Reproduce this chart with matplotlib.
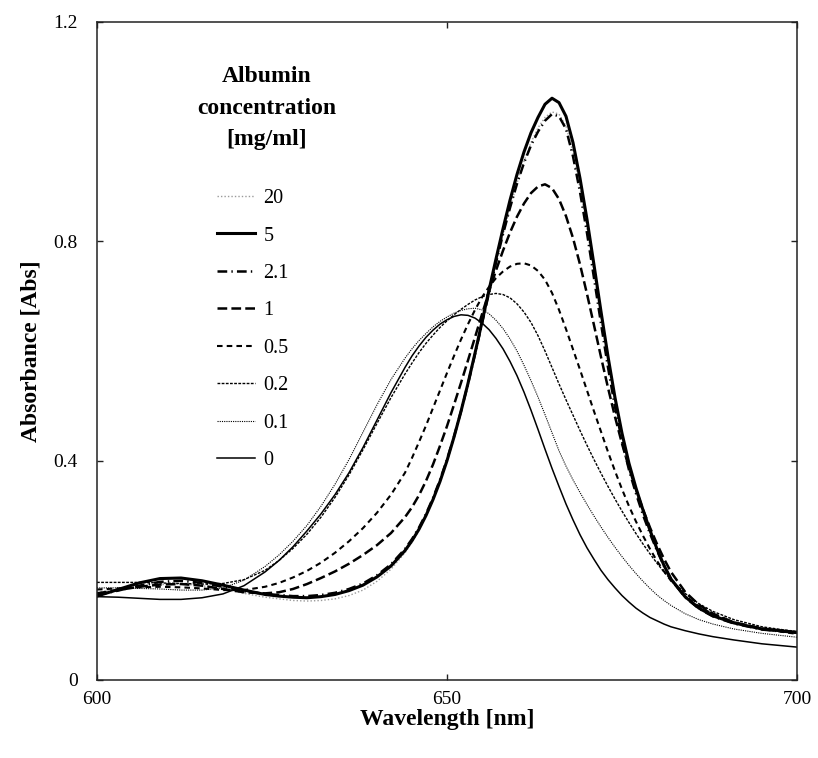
import matplotlib
matplotlib.use("Agg")
import matplotlib.pyplot as plt

plt.rcParams['font.family'] = ['Liberation Serif', 'DejaVu Serif']
plt.rcParams['lines.scale_dashes'] = False

# Absorption spectra of the dye at different albumin concentrations
wavelength = [600, 603, 606, 609, 612, 615, 618, 621,
              624, 626, 628, 630, 632, 634, 636, 638, 640, 642, 644,
              645, 646, 647, 648, 649, 650, 651, 652, 653, 654, 655, 656, 657, 658, 659,
              660, 661, 662, 663, 664, 665, 666, 667, 668, 669, 670, 671, 672, 673, 674,
              675, 676, 677, 678, 679, 680, 681, 682,
              684, 686, 688, 691, 695, 700]

abs_20 = [0.160, 0.165, 0.170, 0.174, 0.175, 0.172, 0.166, 0.158,
          0.151, 0.148, 0.145, 0.144, 0.145, 0.148, 0.154, 0.164, 0.180, 0.202, 0.232,
          0.251, 0.273, 0.299, 0.329, 0.362, 0.400, 0.442, 0.488, 0.538, 0.592, 0.648, 0.704,
          0.759, 0.812, 0.861, 0.906, 0.946, 0.980, 1.007, 1.026, 1.036, 1.032, 1.010, 0.962,
          0.898, 0.823, 0.742, 0.660, 0.580, 0.507, 0.443, 0.389, 0.344, 0.305, 0.270, 0.239,
          0.211, 0.187,
          0.154, 0.133, 0.119, 0.106, 0.095, 0.089]
abs_5 = [0.153, 0.165, 0.177, 0.185, 0.186, 0.181, 0.173, 0.164,
         0.156, 0.153, 0.151, 0.150, 0.152, 0.156, 0.163, 0.173, 0.188, 0.208, 0.236,
         0.254, 0.275, 0.300, 0.329, 0.362, 0.400, 0.443, 0.490, 0.541, 0.596, 0.653, 0.711,
         0.768, 0.823, 0.875, 0.922, 0.963, 0.998, 1.026, 1.050, 1.061, 1.053, 1.028, 0.980,
         0.915, 0.840, 0.757, 0.672, 0.590, 0.515, 0.450, 0.395, 0.350, 0.310, 0.273, 0.239,
         0.209, 0.184,
         0.152, 0.131, 0.117, 0.104, 0.093, 0.087]
abs_2_1 = [0.155, 0.163, 0.172, 0.179, 0.181, 0.177, 0.170, 0.162,
           0.157, 0.155, 0.153, 0.153, 0.155, 0.159, 0.166, 0.176, 0.191, 0.211, 0.239,
           0.257, 0.278, 0.303, 0.332, 0.365, 0.402, 0.444, 0.490, 0.540, 0.594, 0.650, 0.706,
           0.761, 0.813, 0.861, 0.905, 0.943, 0.975, 1.000, 1.020, 1.032, 1.028, 1.005, 0.955,
           0.890, 0.815, 0.733, 0.650, 0.570, 0.498, 0.436, 0.383, 0.340, 0.301, 0.267, 0.236,
           0.208, 0.184,
           0.151, 0.130, 0.116, 0.103, 0.092, 0.086]
abs_1 = [0.158, 0.164, 0.170, 0.174, 0.175, 0.172, 0.166, 0.160,
         0.158, 0.160, 0.166, 0.175, 0.186, 0.198, 0.212, 0.228, 0.246, 0.268, 0.297,
         0.315, 0.337, 0.363, 0.393, 0.427, 0.463, 0.502, 0.542, 0.583, 0.625, 0.667, 0.708,
         0.747, 0.783, 0.816, 0.845, 0.869, 0.888, 0.900, 0.904, 0.897, 0.877, 0.846, 0.806,
         0.758, 0.704, 0.647, 0.589, 0.533, 0.480, 0.431, 0.387, 0.347, 0.311, 0.278, 0.248,
         0.221, 0.197,
         0.161, 0.137, 0.121, 0.105, 0.094, 0.086]
abs_0_5 = [0.165, 0.167, 0.169, 0.170, 0.169, 0.167, 0.164, 0.164,
           0.170, 0.177, 0.187, 0.199, 0.214, 0.232, 0.253, 0.277, 0.305, 0.338, 0.378,
           0.405, 0.434, 0.464, 0.496, 0.528, 0.560, 0.591, 0.621, 0.649, 0.675, 0.698, 0.717,
           0.733, 0.745, 0.754, 0.759, 0.760, 0.756, 0.746, 0.730, 0.706, 0.675, 0.640, 0.603,
           0.566, 0.528, 0.490, 0.453, 0.416, 0.381, 0.348, 0.317, 0.289, 0.263, 0.239, 0.217,
           0.198, 0.181,
           0.154, 0.134, 0.120, 0.105, 0.093, 0.084]
abs_0_2 = [0.178, 0.178, 0.178, 0.177, 0.176, 0.175, 0.176, 0.183,
           0.200, 0.218, 0.240, 0.266, 0.297, 0.333, 0.374, 0.420, 0.468, 0.515, 0.558,
           0.578, 0.597, 0.614, 0.629, 0.643, 0.655, 0.666, 0.676, 0.685, 0.693, 0.699, 0.703,
           0.705, 0.703, 0.697, 0.686, 0.671, 0.652, 0.628, 0.600, 0.570, 0.540, 0.511, 0.483,
           0.455, 0.428, 0.402, 0.377, 0.353, 0.330, 0.308, 0.287, 0.267, 0.248, 0.230, 0.213,
           0.197, 0.183,
           0.158, 0.139, 0.125, 0.110, 0.097, 0.088]
abs_0_1 = [0.168, 0.168, 0.167, 0.166, 0.164, 0.164, 0.168, 0.182,
           0.207, 0.228, 0.253, 0.282, 0.317, 0.357, 0.402, 0.452, 0.502, 0.548, 0.587,
           0.604, 0.619, 0.632, 0.644, 0.654, 0.662, 0.669, 0.674, 0.677, 0.678, 0.675, 0.668,
           0.656, 0.641, 0.622, 0.600, 0.574, 0.546, 0.516, 0.484, 0.451, 0.418, 0.390, 0.365,
           0.342, 0.320, 0.299, 0.279, 0.260, 0.242, 0.225, 0.209, 0.194, 0.180, 0.167, 0.155,
           0.145, 0.136,
           0.121, 0.110, 0.102, 0.093, 0.085, 0.078]
abs_0 = [0.152, 0.151, 0.149, 0.147, 0.147, 0.150, 0.157, 0.172,
         0.197, 0.218, 0.243, 0.272, 0.303, 0.338, 0.378, 0.424, 0.474, 0.524, 0.570,
         0.591, 0.609, 0.625, 0.638, 0.649, 0.657, 0.663, 0.666, 0.665, 0.660, 0.651, 0.639,
         0.623, 0.604, 0.581, 0.555, 0.525, 0.492, 0.457, 0.421, 0.386, 0.353, 0.321, 0.292,
         0.265, 0.241, 0.220, 0.200, 0.183, 0.168, 0.154, 0.142, 0.131, 0.122, 0.114, 0.108,
         0.102, 0.097,
         0.090, 0.084, 0.079, 0.073, 0.066, 0.060]

labels = ['20', '5', '2.1', '1', '0.5', '0.2', '0.1', '0']
series = [abs_20, abs_5, abs_2_1, abs_1, abs_0_5, abs_0_2, abs_0_1, abs_0]

styles = {
    '20':  dict(color='#9a9a9a', lw=1.0, ls=(0, (1.0, 1.5))),
    '5':   dict(color='black', lw=2.2, ls='-'),
    '2.1': dict(color='black', lw=1.8, ls=(0, (7, 3, 1, 3))),
    '1':   dict(color='black', lw=1.8, ls=(0, (7, 3))),
    '0.5': dict(color='black', lw=1.5, ls=(0, (4, 3))),
    '0.2': dict(color='black', lw=1.0, ls=(0, (2, 1))),
    '0.1': dict(color='black', lw=0.8, ls=(0, (0.8, 0.8))),
    '0':   dict(color='black', lw=1.1, ls='-'),
}

W, H = 818, 758
fig = plt.figure(figsize=(W / 100, H / 100), dpi=100)
ax = fig.add_axes([97 / W, 1 - 680 / H, 700 / W, 658 / H])

for lab, y in zip(labels, series):
    st = styles[lab]
    ax.plot(wavelength, y, color=st['color'], lw=st['lw'], linestyle=st['ls'], label=lab)

ax.set_xlim(600, 700)
ax.set_ylim(0, 1.2)
ax.set_xticks([600, 650, 700])
ax.set_yticks([0, 0.4, 0.8, 1.2])
ax.set_yticklabels(['0', '0.4', '0.8', '1.2'])

for sp in ax.spines.values():
    sp.set_linewidth(1.1)
    sp.set_color('#222222')

ax.tick_params(axis='both', direction='in', length=4.5, width=1.0, colors='#222222',
               labelcolor='black', labelsize=14, top=True, right=True)
ax.tick_params(axis='y', pad=14)
ax.tick_params(axis='x', pad=8)

ax.set_xlabel('Wavelength [nm]', fontsize=17, fontweight='bold', labelpad=1)
ax.set_ylabel('Absorbance [Abs]', fontsize=17, fontweight='bold', labelpad=8)

fig.text(267 / W, 1 - 108 / H, 'Albumin\nconcentration\n[mg/ml]', ha='center', va='center',
         fontsize=17, fontweight='bold', multialignment='center', linespacing=1.67)

leg = ax.legend(loc='upper left', bbox_to_anchor=(217 / W, 1 - 189 / H),
                bbox_transform=fig.transFigure, frameon=False, fontsize=14.5,
                handlelength=1.9, handletextpad=0.4, labelspacing=0.91, borderpad=0,
                borderaxespad=0)

fig.savefig('out.png', dpi=100)
